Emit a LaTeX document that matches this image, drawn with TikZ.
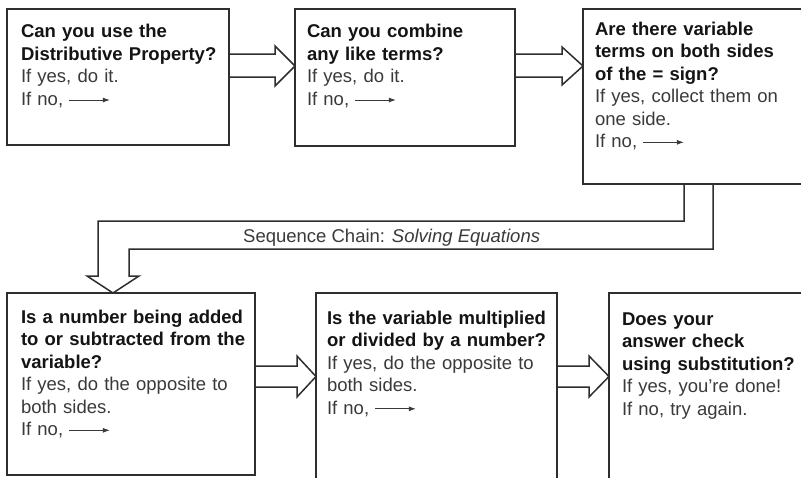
\documentclass[tikz,border=0pt]{standalone}
\usepackage{fontspec}
\setmainfont{Liberation Sans}
\usetikzlibrary{calc,arrows.meta}
\definecolor{boxc}{HTML}{2E2E2E}
\definecolor{txtb}{HTML}{141414}
\definecolor{txtr}{HTML}{3A3A3A}
\newcommand{\noarr}{\hspace{0.3em}\tikz[baseline]{\draw[line width=0.8pt,-{Latex[length=7pt,width=5pt]}] (0,0.28em) -- (2.2em,0.28em);}}
\begin{document}
\begin{tikzpicture}[x=1pt,y=-1pt,
  box/.style={draw=boxc,line width=1.8pt,anchor=north west,inner sep=0pt,outer sep=0pt},
  txt/.style={anchor=base west,inner sep=0pt,outer sep=0pt,text width=280pt,align=left,
    font=\fontsize{18.5}{22.5}\selectfont,text=txtr},
  hd/.style={},
  blk/.style={draw=boxc,line width=1.5pt,line join=miter}]
\clip (0,0) rectangle (801,477);
\fill[white] (0,0) rectangle (801,477);
% boxes
\node[box,minimum width=222pt,minimum height=136pt] (b1) at (7,9) {};
\node[box,minimum width=220pt,minimum height=137pt] (b2) at (295,9) {};
\node[box,minimum width=260pt,minimum height=175pt] (b3) at (583,9) {};
\node[box,minimum width=248pt,minimum height=182pt] (b4) at (7,293) {};
\node[box,minimum width=241pt,minimum height=210pt] (b5) at (316,293) {};
\node[box,minimum width=240pt,minimum height=210pt] (b6) at (609,293) {};
% texts
\node[txt] (t1) at (21,37.7) {{\bfseries\color{txtb}Can you use the\\Distributive Property?}\\If yes, do it.\\If no,\noarr};
\node[txt] (t2) at (307,37.7) {{\bfseries\color{txtb}Can you combine\\any like terms?}\\If yes, do it.\\If no,\noarr};
\node[txt] (t3) at (595,35) {{\bfseries\color{txtb}Are there variable\\terms on both sides\\of the = sign?}\\If yes, collect them on\\one side.\\If no,\noarr};
\node[txt] (t4) at (21,323) {{\bfseries\color{txtb}Is a number being added\\to or subtracted from the\\variable?}\\If yes, do the opposite to\\both sides.\\If no,\noarr};
\node[txt] (t5) at (327,324) {{\bfseries\color{txtb}Is the variable multiplied\\or divided by a number?}\\If yes, do the opposite to\\both sides.\\If no,\noarr};
\node[txt] (t6) at (622,325) {{\bfseries\color{txtb}Does your\\answer check\\using substitution?}\\If yes, you’re done!\\If no, try again.};
% block arrows
\draw[blk] ($(b1.north east)+(0,45)$) -- ($(b2.north west)+(-20,45)$) -- ($(b2.north west)+(-20,37)$)
  -- ($(b2.north west)+(0,57)$) -- ($(b2.north west)+(-20,77)$) -- ($(b2.north west)+(-20,68)$) -- ($(b1.north east)+(0,68)$);
\draw[blk] ($(b2.north east)+(0,45)$) -- ($(b3.north west)+(-21,45)$) -- ($(b3.north west)+(-21,38)$)
  -- ($(b3.north west)+(0,57)$) -- ($(b3.north west)+(-21,76)$) -- ($(b3.north west)+(-21,68)$) -- ($(b2.north east)+(0,68)$);
\draw[blk] ($(b4.north east)+(0,73)$) -- ($(b5.north west)+(-19,73)$) -- ($(b5.north west)+(-19,63)$)
  -- ($(b5.north west)+(0,83.5)$) -- ($(b5.north west)+(-19,104)$) -- ($(b5.north west)+(-19,94)$) -- ($(b4.north east)+(0,94)$);
\draw[blk] ($(b5.north east)+(0,73)$) -- ($(b6.north west)+(-20,73)$) -- ($(b6.north west)+(-20,63)$)
  -- ($(b6.north west)+(0,83.5)$) -- ($(b6.north west)+(-20,104)$) -- ($(b6.north west)+(-20,94)$) -- ($(b5.north east)+(0,94)$);
% down arrow
\coordinate (d1) at ($(b3.south west)+(101,0)$);
\coordinate (d2) at ($(b3.south west)+(130,0)$);
\coordinate (e1) at ($(b4.north west)+(91,-17)$);
\coordinate (e2) at ($(b4.north west)+(122,-17)$);
\coordinate (tip) at ($(b4.north west)+(106,0)$);
\draw[blk] (d1) -- ++(0,37) -| (e1) -- ++(-11,0) -- (tip) -- ($(e2)+(10,0)$) -- (e2) |- ($(d2)+(0,65)$) -- (d2);
\node[anchor=base west,inner sep=0pt,font=\fontsize{18.5}{22}\selectfont,text=txtr] (lbl) at (243,242) {Sequence Chain: \textit{Solving Equations}};
\end{tikzpicture}
\end{document}
